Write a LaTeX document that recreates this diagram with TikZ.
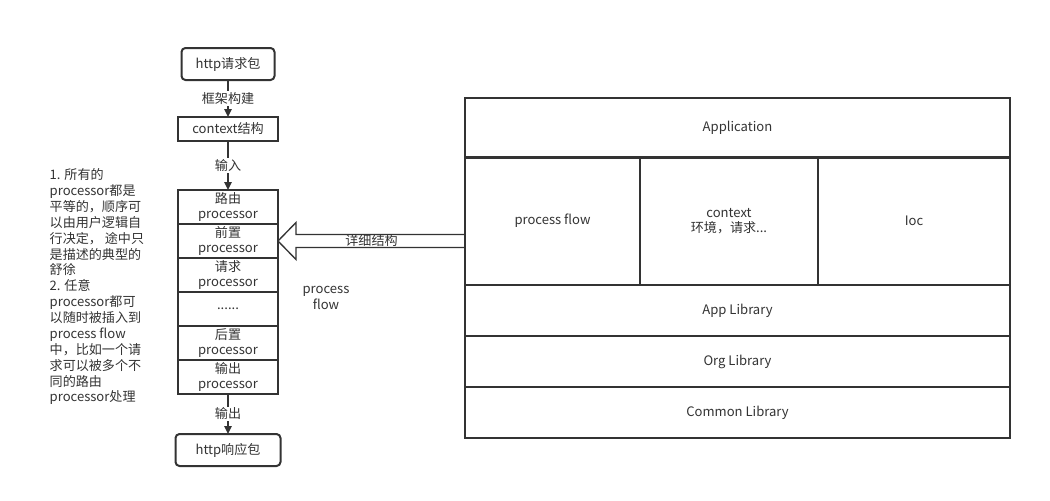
\documentclass[tikz,border=0pt]{standalone}
\usepackage{fontspec}
\setmainfont{Noto Sans CJK SC}
\definecolor{ink}{HTML}{333333}
\usetikzlibrary{
  arrows.meta,
  positioning,
  calc
}
\tikzset{
  >={Triangle[length=6pt,width=5.5pt]},
  every node/.style={font=\fontsize{9.8}{11.5}\selectfont, text=ink},
  pkt/.style={draw=ink, line width=1.5pt, rounded corners=3pt, minimum height=24pt, inner sep=0pt, outer sep=0pt},
  ctxbox/.style={draw=ink, line width=1.5pt, minimum width=75pt, minimum height=18pt, inner sep=0pt, outer sep=0pt},
  procbox/.style={draw=ink, line width=1.5pt, minimum width=75pt, minimum height=25.5pt, inner sep=0pt, outer sep=0pt, align=center},
  layer/.style={draw=ink, line width=1.5pt, minimum height=38.25pt, minimum width=408.75pt, inner sep=0pt, outer sep=0pt, align=center},
  part/.style={draw=ink, line width=1.5pt, minimum height=96pt, inner sep=0pt, outer sep=0pt, align=center},
  arrow/.style={->, line width=1.5pt, draw=ink},
  lbl/.style={fill=white, inner sep=1pt},
  hollowarrow/.style={draw=ink, line width=1pt, line join=miter},
  note/.style={align=left, font=\fontsize{9.8}{11.9}\selectfont}
}
\begin{document}
\begin{tikzpicture}[x=0.75pt, y=-0.75pt]
  \useasboundingbox (0,0) rectangle (1050,500);

  % request flow (left)
  \node[pkt, minimum width=69.75pt] (req) at (228,64) {http请求包};
  \node[ctxbox] (ctx) at (228,129) {context结构};
  \node[procbox] (route) at (228,207) {路由\\processor};
  \node[procbox, below=0pt of route] (pre) {前置\\processor};
  \node[procbox, below=0pt of pre] (reqp) {请求\\processor};
  \node[procbox, below=0pt of reqp] (dots) {......};
  \node[procbox, below=0pt of dots] (post) {后置\\processor};
  \node[procbox, below=0pt of post] (outp) {输出\\processor};
  \node[pkt, minimum width=78.75pt] (resp) at (228,450) {http响应包};

  \draw[arrow] (req) -- node[lbl] {框架构建} (ctx);
  \draw[arrow] (ctx) -- node[lbl] {输入} (route);
  \draw[arrow] (outp) -- node[lbl] {输出} (resp);

  \node[align=center] (pflabel) at (326,298) {process\\flow};

  % notes
  \node[note, anchor=north west] (notes) at (45,164) {1. 所有的\\processor都是\\平等的，顺序可\\以由用户逻辑自\\行决定， 途中只\\是描述的典型的\\舒徐\\2. 任意\\processor都可\\以随时被插入到\\process flow\\中，比如一个请\\求可以被多个不\\同的路由\\processor处理};

  % application layers (right)
  \node[layer, minimum height=45pt] (app) at (737.5,128) {Application};
  \node[part, minimum width=131.25pt] (pf) at (552.5,221) {process flow};
  \node[part, minimum width=133.5pt] (env) at (729,221) {context\\环境，请求...};
  \node[part, minimum width=144pt] (ioc) at (914,221) {Ioc};
  \node[layer] (applib) at (737.5,310.5) {App Library};
  \node[layer] (orglib) at (737.5,361.5) {Org Library};
  \node[layer] (comlib) at (737.5,412.5) {Common Library};

  % detail arrow
  \coordinate (tail) at (pf.west |- pre.east);
  \draw[hollowarrow] ($(tail)+(0,-6.5)$) -- ($(pre.east)+(18,-6.5)$) -- ($(pre.east)+(18,-18.5)$)
    -- (pre.east) -- ($(pre.east)+(18,18.5)$) -- ($(pre.east)+(18,6.5)$) -- ($(tail)+(0,6.5)$);
  \node (detail) at ($(pre.east)!0.5!(tail)$) {详细结构};
\end{tikzpicture}
\end{document}
